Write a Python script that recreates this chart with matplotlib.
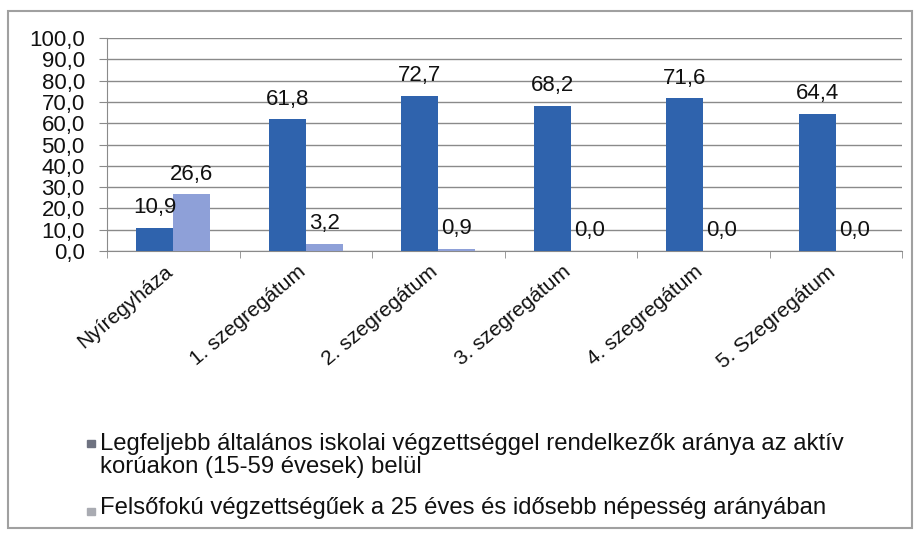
import numpy as np
import matplotlib
matplotlib.use('Agg')
import matplotlib.pyplot as plt
from matplotlib.patches import Rectangle
from matplotlib.ticker import FuncFormatter, FixedLocator
from matplotlib.transforms import ScaledTranslation

plt.rcParams['font.family'] = ['Liberation Sans', 'DejaVu Sans']

categories = ['Nyíregyháza', '1. szegregátum', '2. szegregátum',
              '3. szegregátum', '4. szegregátum', '5. Szegregátum']
low_edu = [10.9, 61.8, 72.7, 68.2, 71.6, 64.4]
high_edu = [26.6, 3.2, 0.9, 0.0, 0.0, 0.0]
series_names = ['Legfeljebb általános iskolai végzettséggel rendelkezők aránya az aktív\n'
                'korúakon (15-59 évesek) belül',
                'Felsőfokú végzettségűek a 25 éves és idősebb népesség arányában']

dark = '#2f63ad'
light = '#8ea0d8'
grid_c = '#8a8a8a'
txt_c = '#111111'

W, H = 916, 538
fig = plt.figure(figsize=(W / 100, H / 100), dpi=100)
fig.patch.set_facecolor('white')


def fx(px):
    return px / W


def fy(py):
    return 1 - py / H


ax = fig.add_axes([fx(107), fy(251), fx(902) - fx(107), fy(38) - fy(251)])

x = np.arange(len(categories))
bw = 0.28
b1 = ax.bar(x - bw / 2, low_edu, bw, color=dark, zorder=3)
b2 = ax.bar(x + bw / 2, high_edu, bw, color=light, zorder=3)


def hu(v):
    return f'{v:.1f}'.replace('.', ',')


for bars, vals in ((b1, low_edu), (b2, high_edu)):
    for r, v in zip(bars, vals):
        ax.annotate(hu(v), (r.get_x() + r.get_width() / 2, v),
                    xytext=(0, 7), textcoords='offset points',
                    ha='center', va='bottom', fontsize=16, color=txt_c, zorder=4)

ax.set_xlim(-0.5, len(categories) - 0.5)
ax.set_ylim(0, 100)
ax.set_yticks(np.arange(0, 101, 10))
ax.yaxis.set_major_formatter(FuncFormatter(lambda v, p: hu(v)))
ax.tick_params(axis='y', labelsize=16, length=6, color=grid_c, pad=10,
               labelcolor=txt_c)
ax.grid(axis='y', color=grid_c, linewidth=1.0, zorder=1)

ax.set_xticks(x)
ax.set_xticklabels(categories, rotation=40, ha='right', va='top',
                   rotation_mode='anchor', fontsize=15, color=txt_c)
ax.tick_params(axis='x', length=0, pad=8)
shift = ScaledTranslation(-9 / 100, 0, fig.dpi_scale_trans)
for lab in ax.get_xticklabels():
    lab.set_transform(lab.get_transform() + shift)
ax.xaxis.set_minor_locator(FixedLocator(np.arange(-0.5, len(categories), 1.0)))
ax.tick_params(axis='x', which='minor', length=5, color=grid_c)

for s in ('top', 'right'):
    ax.spines[s].set_visible(False)
ax.spines['left'].set_color(grid_c)
ax.spines['bottom'].set_color(grid_c)

# legend drawn by hand so the marker sits on the first text line
leg_top = [433, 497]
mark_y = [440, 508]
for name, col, yt, ym in zip(series_names, ['#6e7280', '#a9abb2'], leg_top, mark_y):
    fig.patches.append(Rectangle((fx(87), fy(ym + 7)), fx(8), 7 / H,
                                 transform=fig.transFigure, color=col))
    fig.text(fx(100), fy(yt), name, fontsize=17.2, color=txt_c,
             ha='left', va='top', linespacing=1.05)

# outer chart frame
fig.patches.append(Rectangle((fx(8), fy(528)), fx(904), 517 / H,
                             transform=fig.transFigure, fill=False,
                             edgecolor='#a0a0a0', linewidth=1.5))

fig.savefig('out.png', dpi=100)
